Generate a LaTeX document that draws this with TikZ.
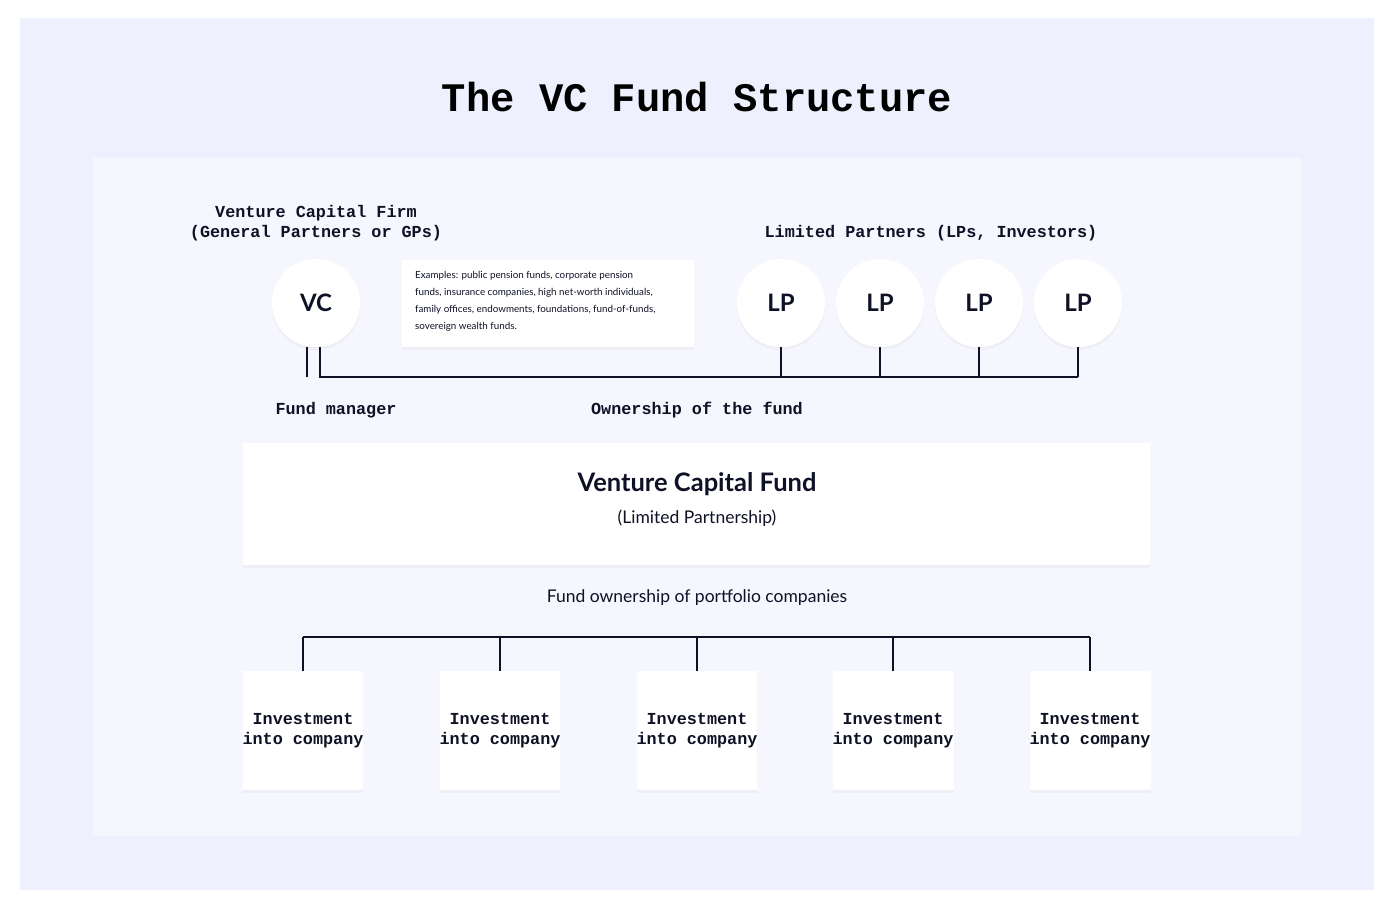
\documentclass[tikz,border=0pt]{standalone}
\usepackage{fontspec}
\setmainfont{Lato}
\newfontfamily\monof{Liberation Mono}
\usetikzlibrary{shadows}
\definecolor{outerbg}{HTML}{EEF0FE}
\definecolor{innerbg}{HTML}{F5F6FE}
\definecolor{ink}{HTML}{0F1226}
\tikzset{
  card/.style={fill=white,draw=none,drop shadow={opacity=0.06,shadow xshift=0pt,shadow yshift=-3pt}},
  circ/.style={card,circle,minimum size=88pt,inner sep=0pt,font=\fontsize{24}{26}\selectfont\bfseries,text=ink},
  mlabel/.style={font=\monof\bfseries\fontsize{16.8}{20}\selectfont,align=center,text=ink},
  wire/.style={line width=1.2pt,ink},
  invbox/.style={card,minimum width=120pt,minimum height=119pt,inner sep=0pt,align=center,font=\monof\bfseries\fontsize{16.8}{20}\selectfont,text=ink}
}
\begin{document}
\begin{tikzpicture}[x=1pt,y=-1pt]
\useasboundingbox (0,0) rectangle (1400,921);
\fill[white] (0,0) rectangle (1400,921);
\fill[outerbg] (20,18) rectangle (1374,890);
\fill[innerbg] (93,158) rectangle (1301,836);
\node[font=\monof\bfseries\fontsize{40.5}{44}\selectfont,text=black] (title) at (697,97) {The VC Fund Structure};

\node[mlabel] (vcfirm) at (316,223) {Venture Capital Firm\\(General Partners or GPs)};
\node[mlabel] (lplab) at (931,233) {Limited Partners (LPs, Investors)};

\node[circ] (vc) at (316,303) {VC};
\node[circ] (lp1) at (781,303) {LP};
\node[circ] (lp2) at (880,303) {LP};
\node[circ] (lp3) at (979,303) {LP};
\node[circ] (lp4) at (1078,303) {LP};

\node[card,minimum width=292pt,minimum height=87pt,anchor=north west,inner sep=0pt] (ex) at (402,260) {};
\node[anchor=north west,align=left,font=\fontsize{9.8}{17}\selectfont,text=ink,inner sep=0pt] (extext) at (415,271) {Examples: public pension funds, corporate pension\\funds, insurance companies, high net-worth individuals,\\family offices, endowments, foundations, fund-of-funds,\\sovereign wealth funds.};

\coordinate (gl) at (307,377);
\coordinate (gc) at (320,377);
\draw[wire] (307,347) -- (gl);
\draw[wire] (320,347) -- (gc) -- (1078,377);
\foreach \n in {lp1,lp2,lp3,lp4}{\draw[wire] (\n.south) -- (\n.south |- gc);}

\node[mlabel] (fm) at (336,410) {Fund manager};
\node[mlabel] (own) at (697,410) {Ownership of the fund};

\node[card,minimum width=907pt,minimum height=122pt,inner sep=0pt] (fund) at (696.5,504) {};
\node[font=\fontsize{25.5}{28}\selectfont\bfseries,text=ink] (fundt) at (697,484) {Venture Capital Fund};
\node[font=\fontsize{17.5}{20}\selectfont,text=ink] (fundst) at (697,518) {(Limited Partnership)};

\node[font=\fontsize{17.5}{20}\selectfont,text=ink] (fo) at (697,598) {Fund ownership of portfolio companies};

\coordinate (tl) at (303,637);
\coordinate (tr) at (1090,637);
\draw[wire] (tl) -- (tr);
\foreach \i/\x in {1/303,2/500,3/697,4/893,5/1090}{
  \node[invbox] (inv\i) at (\x,730.5) {Investment\\into company};
  \draw[wire] (\x,637) -- (inv\i.north);
}
\end{tikzpicture}
\end{document}
